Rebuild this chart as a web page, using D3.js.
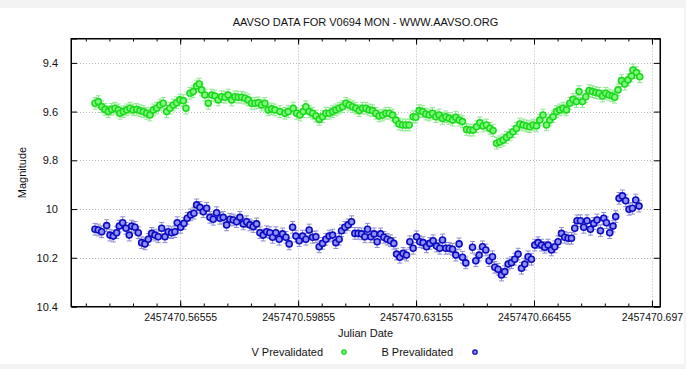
<!DOCTYPE html>
<html>
<head>
<meta charset="utf-8">
<script src="https://cdn.jsdelivr.net/npm/d3@7/dist/d3.min.js"></script>
<style>
  body { margin: 0; background: #f3f3f3; }
  svg { display: block; font-family: "Liberation Sans", Arial, sans-serif; }
</style>
</head>
<body>
<div id="chart"></div>
<script>
const title = "AAVSO DATA FOR V0694 MON - WWW.AAVSO.ORG"

// julian date minus 2457470
const vJd = [0.54171,0.54263,0.54359,0.54451,0.54543,0.54638,0.54731,0.54823,0.5487,0.54963,0.55058,0.5515,0.55242,0.55337,0.5543,0.55522,0.55617,0.55709,0.55802,0.55897,
  0.55989,0.56081,0.56176,0.56269,0.56361,0.56456,0.56548,0.56641,0.56716,0.56828,0.5692,0.57015,0.57088,0.57155,0.57247,0.5734,0.57435,0.57527,0.57619,0.57714,
  0.57807,0.57899,0.57994,0.58086,0.58179,0.58274,0.58366,0.58458,0.58553,0.58646,0.58738,0.58833,0.58925,0.59018,0.59113,0.59205,0.59345,0.59485,0.59577,0.59717,
  0.59812,0.59904,0.59996,0.60072,0.60164,0.60259,0.60352,0.60444,0.60539,0.60631,0.60724,0.60819,0.60911,0.61003,0.61098,0.61191,0.61283,0.61378,0.6147,0.61563,
  0.61658,0.6175,0.61842,0.61937,0.6203,0.62122,0.62217,0.62309,0.62402,0.62497,0.62589,0.62681,0.62776,0.62869,0.62961,0.63073,0.63148,0.6324,0.63335,0.63428,
  0.6352,0.63615,0.63708,0.638,0.63895,0.63987,0.6408,0.64175,0.64267,0.64359,0.64454,0.64566,0.64658,0.64751,0.64846,0.64938,0.6503,0.65125,0.65218,0.6531,
  0.65405,0.65497,0.6559,0.65685,0.65777,0.65869,0.65964,0.66057,0.66149,0.66244,0.66337,0.66429,0.66524,0.66616,0.66708,0.66803,0.66896,0.66988,0.67083,0.67176,
  0.67268,0.67363,0.67455,0.67547,0.67642,0.67715,0.6781,0.67902,0.67995,0.6809,0.68182,0.68274,0.68369,0.68462,0.68554,0.68649,0.68714,0.68806,0.68901,0.68993,
  0.69086,0.69181,0.69225,0.6932,0.69413]
const vMag = [9.566,9.559,9.580,9.591,9.600,9.591,9.586,9.593,9.607,9.600,9.593,9.586,9.593,9.591,9.596,9.600,9.607,9.614,9.593,9.586,
  9.573,9.566,9.600,9.586,9.573,9.564,9.552,9.555,9.586,9.525,9.518,9.495,9.487,9.511,9.532,9.566,9.532,9.536,9.552,9.539,
  9.541,9.532,9.552,9.539,9.541,9.541,9.545,9.552,9.566,9.566,9.564,9.573,9.566,9.593,9.589,9.593,9.600,9.607,9.600,9.586,
  9.607,9.614,9.600,9.580,9.600,9.607,9.618,9.632,9.621,9.607,9.607,9.600,9.593,9.586,9.580,9.566,9.573,9.580,9.586,9.596,
  9.586,9.586,9.593,9.596,9.607,9.618,9.614,9.607,9.607,9.614,9.635,9.651,9.655,9.655,9.655,9.621,9.623,9.596,9.600,9.610,
  9.614,9.607,9.621,9.614,9.628,9.621,9.628,9.635,9.623,9.635,9.641,9.673,9.676,9.676,9.662,9.646,9.659,9.655,9.669,9.678,
  9.730,9.724,9.717,9.706,9.696,9.683,9.669,9.651,9.655,9.659,9.662,9.655,9.659,9.635,9.614,9.655,9.635,9.621,9.600,9.593,
  9.586,9.593,9.566,9.550,9.559,9.518,9.559,9.539,9.514,9.518,9.522,9.525,9.536,9.525,9.532,9.536,9.541,9.511,9.473,9.487,
  9.470,9.454,9.429,9.440,9.457]
const vErr = 0.024

const bJd = [0.54171,0.54263,0.54359,0.54498,0.54591,0.54683,0.54778,0.54851,0.54946,0.55038,0.5513,0.55198,0.5529,0.55382,0.55477,0.5557,0.55662,0.55757,0.55849,0.55941,
  0.56037,0.56129,0.56221,0.56316,0.56408,0.56473,0.56568,0.5666,0.56752,0.56848,0.5694,0.57015,0.57108,0.572,0.57295,0.57387,0.5748,0.57575,0.57667,0.57759,
  0.57854,0.57947,0.58039,0.58134,0.58226,0.58319,0.58414,0.58506,0.58598,0.58693,0.58786,0.58878,0.58973,0.59065,0.59141,0.59233,0.59325,0.5942,0.59513,0.59605,
  0.597,0.59792,0.59885,0.5998,0.60072,0.60164,0.60259,0.60352,0.60444,0.60539,0.60631,0.60724,0.60819,0.60911,0.61003,0.6107,0.61163,0.61255,0.6135,0.61442,
  0.61535,0.6163,0.61722,0.61798,0.6189,0.61982,0.62066,0.62161,0.62253,0.62346,0.62441,0.62533,0.62609,0.62701,0.62793,0.62888,0.6298,0.63073,0.63168,0.6326,
  0.63352,0.63447,0.6354,0.63632,0.63727,0.63819,0.63895,0.63987,0.6408,0.64175,0.64267,0.64359,0.64454,0.64547,0.64734,0.64826,0.64919,0.65014,0.65106,0.65198,
  0.65293,0.65358,0.6545,0.65545,0.65637,0.6573,0.65825,0.65917,0.66009,0.66104,0.66197,0.66289,0.66384,0.66476,0.66569,0.66664,0.66756,0.66848,0.66943,0.67036,
  0.67128,0.67223,0.67315,0.67408,0.67503,0.67595,0.67659,0.67754,0.67847,0.67939,0.68034,0.68126,0.68219,0.68314,0.68406,0.68481,0.68574,0.68666,0.68741,0.68834,
  0.68929,0.69021,0.69113,0.69208,0.69301,0.69393]
const bMag = [10.083,10.086,10.093,10.068,10.107,10.111,10.097,10.070,10.056,10.079,10.107,10.070,10.075,10.097,10.138,10.143,10.124,10.100,10.107,10.114,
  10.079,10.114,10.093,10.097,10.093,10.056,10.075,10.059,10.038,10.024,10.017,9.983,9.993,10.011,9.997,10.034,10.042,10.015,10.038,10.034,
  10.065,10.042,10.045,10.052,10.034,10.061,10.052,10.065,10.072,10.061,10.097,10.107,10.093,10.097,10.116,10.097,10.124,10.102,10.116,10.143,
  10.075,10.111,10.130,10.111,10.124,10.086,10.116,10.114,10.155,10.141,10.124,10.111,10.107,10.138,10.124,10.089,10.075,10.065,10.052,10.100,
  10.100,10.102,10.114,10.083,10.114,10.102,10.134,10.102,10.116,10.124,10.130,10.141,10.185,10.198,10.182,10.189,10.134,10.161,10.114,10.134,
  10.138,10.155,10.141,10.130,10.152,10.161,10.127,10.161,10.161,10.165,10.189,10.143,10.198,10.221,10.157,10.212,10.189,10.155,10.168,10.212,
  10.196,10.239,10.247,10.271,10.257,10.226,10.220,10.206,10.185,10.243,10.226,10.196,10.206,10.148,10.138,10.148,10.157,10.148,10.168,10.155,
  10.134,10.100,10.116,10.120,10.120,10.079,10.048,10.048,10.075,10.048,10.083,10.059,10.045,10.089,10.038,10.056,10.097,10.070,10.031,9.956,
  9.946,9.966,10.001,9.997,9.963,9.988]
const bErr = 0.024

const xTicks = [0.56555, 0.59855, 0.63155, 0.66455, 0.69755]
const xTickLabels = ["2457470.56555", "2457470.59855", "2457470.63155", "2457470.66455", "2457470.697"]
const yTicks = [9.4, 9.6, 9.8, 10, 10.2, 10.4]
const seriesNames = ["V Prevalidated", "B Prevalidated"]

const width = 686
const height = 369
const margin = { top: 38.5, right: 26, bottom: 62.5, left: 71 }

const svg = d3.select("#chart")
  .append("svg")
    .attr("width", width)
    .attr("height", height)

// white card on the grey page
svg.append("rect")
  .attr("x", 0).attr("y", 8)
  .attr("width", 684).attr("height", 356)
  .attr("fill", "white")

const x = d3.scaleLinear()
  .domain([0.535, 0.6998])
  .range([margin.left, width - margin.right])

const y = d3.scaleLinear()
  .domain([9.3, 10.4])
  .range([margin.top, height - margin.bottom])

// grid lines
const grid = svg.append("g")
  .attr("stroke", "#b8b8b8")
  .attr("stroke-dasharray", "1,2")
grid.selectAll("line.gx")
  .data(xTicks)
  .join("line")
    .attr("x1", d => Math.round(x(d)) + 0.5)
    .attr("x2", d => Math.round(x(d)) + 0.5)
    .attr("y1", y.range()[0])
    .attr("y2", y.range()[1])
grid.selectAll("line.gy")
  .data(yTicks.filter(d => d < 10.4))
  .join("line")
    .attr("class", "gy")
    .attr("x1", x.range()[0])
    .attr("x2", x.range()[1])
    .attr("y1", d => Math.round(y(d)) + 0.5)
    .attr("y2", d => Math.round(y(d)) + 0.5)

// axes: ticks point inwards on all four sides
const minorX = d3.range(0.53915, 0.6998, 0.0066)
const xAxisBottom = d3.axisBottom(x).tickValues(xTicks).tickFormat((d, i) => xTickLabels[i]).tickSize(-6).tickPadding(7)
const gxb = svg.append("g")
  .attr("transform", `translate(0,${y.range()[1]})`)
  .call(xAxisBottom)
gxb.selectAll(".tick text").attr("class", "xlab")
gxb.append("g")
  .call(d3.axisBottom(x).tickValues(minorX).tickFormat("").tickSize(-3))
  .select(".domain").remove()

const gxt = svg.append("g")
  .attr("transform", `translate(0,${y.range()[0]})`)
  .call(d3.axisTop(x).tickValues(xTicks).tickFormat("").tickSize(-6))
gxt.append("g")
  .call(d3.axisTop(x).tickValues(minorX).tickFormat("").tickSize(-3))
  .select(".domain").remove()

svg.append("g")
  .attr("transform", `translate(${x.range()[0]},0)`)
  .call(d3.axisLeft(y).tickValues(yTicks).tickFormat(d => d).tickSize(-6).tickPadding(13))
svg.append("g")
  .attr("transform", `translate(${x.range()[1]},0)`)
  .call(d3.axisRight(y).tickValues(yTicks).tickFormat("").tickSize(-6))

svg.selectAll(".domain").attr("stroke", "#000")
svg.selectAll(".tick text")
  .style("font-family", "'Liberation Sans', Arial, sans-serif")
  .style("font-size", "11px")
  .attr("fill", "#111")
svg.selectAll(".xlab").style("font-size", "10.5px")

// error bars + points
function drawSeries(jd, mag, err, barColor, stroke, fill) {
  const pts = jd.map((d, i) => ({ t: d, m: mag[i] }))
  const g = svg.append("g")
  const bars = g.append("g").attr("stroke", barColor).attr("stroke-width", 1)
  bars.selectAll("line.v")
    .data(pts)
    .join("line")
      .attr("x1", d => x(d.t)).attr("x2", d => x(d.t))
      .attr("y1", d => y(d.m - err)).attr("y2", d => y(d.m + err))
  bars.selectAll("line.lo")
    .data(pts)
    .join("line")
      .attr("class", "lo")
      .attr("x1", d => x(d.t) - 2.5).attr("x2", d => x(d.t) + 2.5)
      .attr("y1", d => y(d.m + err)).attr("y2", d => y(d.m + err))
  bars.selectAll("line.hi")
    .data(pts)
    .join("line")
      .attr("class", "hi")
      .attr("x1", d => x(d.t) - 2.5).attr("x2", d => x(d.t) + 2.5)
      .attr("y1", d => y(d.m - err)).attr("y2", d => y(d.m - err))
  g.selectAll("circle")
    .data(pts)
    .join("circle")
      .attr("cx", d => x(d.t))
      .attr("cy", d => y(d.m))
      .attr("r", 3)
      .attr("fill", fill)
      .attr("stroke", stroke)
      .attr("stroke-width", 1.6)
}
drawSeries(vJd, vMag, vErr, "#8ee88e", "#1ed81e", "#7dff7d")
drawSeries(bJd, bMag, bErr, "#8e8ed0", "#0c0cc0", "#9090ff")

// frame on top
svg.append("rect")
  .attr("x", x.range()[0]).attr("y", y.range()[0])
  .attr("width", x.range()[1] - x.range()[0])
  .attr("height", y.range()[1] - y.range()[0])
  .attr("fill", "none")
  .attr("stroke", "#000")

// texts
svg.append("text")
  .attr("x", (x.range()[0] + x.range()[1]) / 2)
  .attr("y", 26)
  .attr("text-anchor", "middle")
  .style("font-size", "11px")
  .attr("fill", "#111")
  .text(title)

svg.append("text")
  .attr("transform", `translate(26,${(y.range()[0] + y.range()[1]) / 2}) rotate(-90)`)
  .attr("text-anchor", "middle")
  .style("font-size", "11px")
  .attr("fill", "#111")
  .text("Magnitude")

svg.append("text")
  .attr("x", (x.range()[0] + x.range()[1]) / 2)
  .attr("y", 337)
  .attr("text-anchor", "middle")
  .style("font-size", "11px")
  .attr("fill", "#111")
  .text("Julian Date")

// legend
const legend = svg.append("g")
legend.selectAll("text")
  .data(seriesNames)
  .join("text")
    .attr("x", (d, i) => [323, 453][i])
    .attr("y", 356)
    .attr("text-anchor", "end")
    .style("font-size", "11px")
    .attr("fill", "#111")
    .text(d => d)
legend.selectAll("circle")
  .data(seriesNames)
  .join("circle")
    .attr("cx", (d, i) => [344, 475][i])
    .attr("cy", 352)
    .attr("r", 2.2)
    .attr("fill", (d, i) => ["#7dff7d", "#9090ff"][i])
    .attr("stroke", (d, i) => ["#1ed81e", "#0c0cc0"][i])
    .attr("stroke-width", 1.3)
</script>
</body>
</html>
